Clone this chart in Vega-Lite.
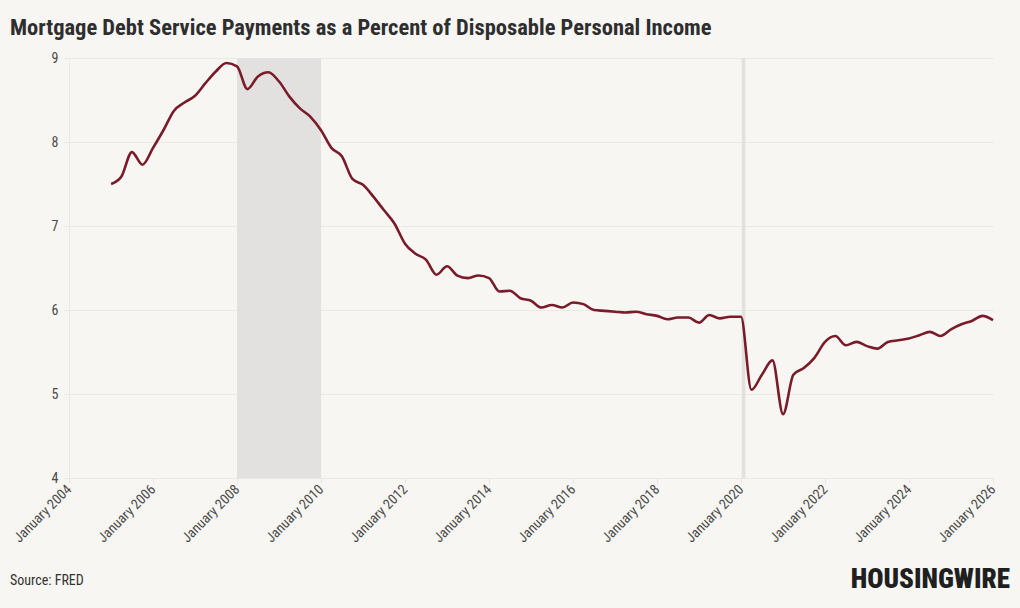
{
  "$schema": "https://vega.github.io/schema/vega-lite/v6.json",
  "autosize": "none",
  "width": 924,
  "height": 420,
  "padding": {"left": 69, "top": 58, "right": 27, "bottom": 130},
  "background": "#f7f6f3",
  "title": {
    "text": "Mortgage Debt Service Payments as a Percent of Disposable Personal Income",
    "anchor": "start",
    "frame": "group",
    "dx": -59,
    "dy": 32,
    "offset": 26,
    "baseline": "alphabetic",
    "font": "Roboto Condensed, Liberation Sans Narrow, DejaVu Sans Condensed, Roboto, sans-serif",
    "fontSize": 22.5,
    "fontWeight": "bold",
    "color": "#2e2e2e"
  },
  "config": {
    "view": {"stroke": null},
    "font": "Roboto Condensed, Liberation Sans Narrow, DejaVu Sans Condensed, Roboto, sans-serif"
  },
  "datasets": {
    "recessions": [
      {"start": "2008-01-01", "end": "2010-01-01"},
      {"start": "2020-01-08", "end": "2020-02-08"}
    ],
    "mdsp": [
      {"date": "2005-01-01", "value": 7.50}, {"date": "2005-04-01", "value": 7.59}, {"date": "2005-07-01", "value": 7.88}, {"date": "2005-10-01", "value": 7.73},
      {"date": "2006-01-01", "value": 7.93}, {"date": "2006-04-01", "value": 8.14}, {"date": "2006-07-01", "value": 8.37}, {"date": "2006-10-01", "value": 8.47},
      {"date": "2007-01-01", "value": 8.55}, {"date": "2007-04-01", "value": 8.70}, {"date": "2007-07-01", "value": 8.84}, {"date": "2007-10-01", "value": 8.94},
      {"date": "2008-01-01", "value": 8.90}, {"date": "2008-04-01", "value": 8.63}, {"date": "2008-07-01", "value": 8.78}, {"date": "2008-10-01", "value": 8.83},
      {"date": "2009-01-01", "value": 8.72}, {"date": "2009-04-01", "value": 8.54}, {"date": "2009-07-01", "value": 8.40}, {"date": "2009-10-01", "value": 8.30},
      {"date": "2010-01-01", "value": 8.14}, {"date": "2010-04-01", "value": 7.93}, {"date": "2010-07-01", "value": 7.83}, {"date": "2010-10-01", "value": 7.56},
      {"date": "2011-01-01", "value": 7.49}, {"date": "2011-04-01", "value": 7.35}, {"date": "2011-07-01", "value": 7.19}, {"date": "2011-10-01", "value": 7.03},
      {"date": "2012-01-01", "value": 6.79}, {"date": "2012-04-01", "value": 6.67}, {"date": "2012-07-01", "value": 6.60}, {"date": "2012-10-01", "value": 6.42},
      {"date": "2013-01-01", "value": 6.52}, {"date": "2013-04-01", "value": 6.41}, {"date": "2013-07-01", "value": 6.38}, {"date": "2013-10-01", "value": 6.41},
      {"date": "2014-01-01", "value": 6.38}, {"date": "2014-04-01", "value": 6.22}, {"date": "2014-07-01", "value": 6.23}, {"date": "2014-10-01", "value": 6.14},
      {"date": "2015-01-01", "value": 6.11}, {"date": "2015-04-01", "value": 6.03}, {"date": "2015-07-01", "value": 6.06}, {"date": "2015-10-01", "value": 6.03},
      {"date": "2016-01-01", "value": 6.09}, {"date": "2016-04-01", "value": 6.07}, {"date": "2016-07-01", "value": 6.00}, {"date": "2016-10-01", "value": 5.99},
      {"date": "2017-01-01", "value": 5.98}, {"date": "2017-04-01", "value": 5.97}, {"date": "2017-07-01", "value": 5.98}, {"date": "2017-10-01", "value": 5.95},
      {"date": "2018-01-01", "value": 5.93}, {"date": "2018-04-01", "value": 5.89}, {"date": "2018-07-01", "value": 5.91}, {"date": "2018-10-01", "value": 5.91},
      {"date": "2019-01-01", "value": 5.85}, {"date": "2019-04-01", "value": 5.94}, {"date": "2019-07-01", "value": 5.90}, {"date": "2019-10-01", "value": 5.92},
      {"date": "2020-01-01", "value": 5.92}, {"date": "2020-04-01", "value": 5.05}, {"date": "2020-07-01", "value": 5.23}, {"date": "2020-10-01", "value": 5.40},
      {"date": "2021-01-01", "value": 4.76}, {"date": "2021-04-01", "value": 5.23}, {"date": "2021-07-01", "value": 5.31}, {"date": "2021-10-01", "value": 5.43},
      {"date": "2022-01-01", "value": 5.62}, {"date": "2022-04-01", "value": 5.69}, {"date": "2022-07-01", "value": 5.58}, {"date": "2022-10-01", "value": 5.62},
      {"date": "2023-01-01", "value": 5.57}, {"date": "2023-04-01", "value": 5.54}, {"date": "2023-07-01", "value": 5.62}, {"date": "2023-10-01", "value": 5.64},
      {"date": "2024-01-01", "value": 5.66}, {"date": "2024-04-01", "value": 5.70}, {"date": "2024-07-01", "value": 5.74}, {"date": "2024-10-01", "value": 5.69},
      {"date": "2025-01-01", "value": 5.77}, {"date": "2025-04-01", "value": 5.83}, {"date": "2025-07-01", "value": 5.87}, {"date": "2025-10-01", "value": 5.93},
      {"date": "2026-01-01", "value": 5.88}
    ],
    "notes": [
      {"label": "Source: FRED"}
    ]
  },
  "layer": [
    {
      "data": {"name": "recessions"},
      "mark": {"type": "rect", "color": "#e2e1df"},
      "encoding": {
        "x": {"field": "start", "type": "temporal"},
        "x2": {"field": "end"}
      }
    },
    {
      "data": {"name": "mdsp"},
      "mark": {"type": "line", "interpolate": "monotone", "color": "#7a1b2a", "strokeWidth": 2.6},
      "encoding": {
        "x": {
          "field": "date",
          "type": "temporal",
          "scale": {"domain": [{"year": 2004, "month": 1, "date": 1}, {"year": 2026, "month": 1, "date": 1}]},
          "axis": {
            "title": null,
            "format": "%B %Y",
            "tickCount": {"interval": "year", "step": 2},
            "labelAngle": -45,
            "labelAlign": "right",
            "labelBaseline": "middle",
            "labelFontSize": 14,
            "labelColor": "#4a4a4a",
            "labelPadding": 4,
            "grid": false,
            "domain": false,
            "ticks": true,
            "tickColor": "#e8e6e2",
            "tickSize": 5,
            "labelFlush": false,
            "labelOverlap": false
          }
        },
        "y": {
          "field": "value",
          "type": "quantitative",
          "scale": {"domain": [4, 9], "nice": false, "zero": false},
          "axis": {
            "title": null,
            "values": [4, 5, 6, 7, 8, 9],
            "labelFontSize": 14,
            "labelColor": "#4a4a4a",
            "labelPadding": 6,
            "grid": true,
            "gridColor": "#ebe9e5",
            "domain": true,
            "domainColor": "#ebe9e5",
            "ticks": true,
            "tickColor": "#ebe9e5",
            "tickSize": 5
          }
        }
      }
    },
    {
      "data": {"name": "notes"},
      "mark": {"type": "text", "align": "left", "baseline": "alphabetic", "fontSize": 14, "color": "#333333", "x": -59, "y": 527},
      "encoding": {"text": {"field": "label"}}
    },
    {
      "data": {"values": [{"brand": "HOUSINGWIRE"}]},
      "mark": {"type": "text", "align": "right", "baseline": "alphabetic", "fontSize": 27, "fontWeight": 900, "color": "#1f1f1f", "x": 941, "y": 530, "font": "Roboto Condensed, Liberation Sans Narrow, DejaVu Sans Condensed, Roboto, sans-serif"},
      "encoding": {"text": {"field": "brand"}}
    }
  ]
}
